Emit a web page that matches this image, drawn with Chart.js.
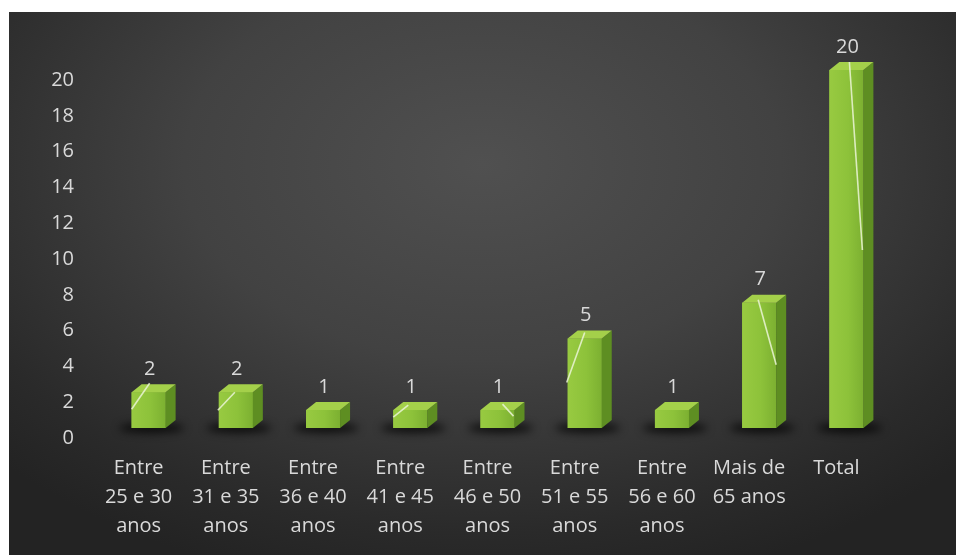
<!DOCTYPE html>
<html>
<head>
<meta charset="utf-8">
<script src="https://cdn.jsdelivr.net/npm/chart.js@4/dist/chart.umd.min.js"></script>
<style>
	html, body { margin: 0; background: #fff; }
	#wrap {
		position: absolute;
		left: 9px;
		top: 12px;
		width: 947px;
		height: 543px;
		background: radial-gradient(ellipse 70% 80% at 50% 28%, #505050 0%, #424242 45%, #2a2a2a 85%, #232323 100%);
	}
</style>
</head>
<body>
<div id="wrap"><canvas id="chart" width="947" height="543"></canvas></div>
<script>
const categories = [
	["Entre", "25 e 30", "anos"],
	["Entre", "31 e 35", "anos"],
	["Entre", "36 e 40", "anos"],
	["Entre", "41 e 45", "anos"],
	["Entre", "46 e 50", "anos"],
	["Entre", "51 e 55", "anos"],
	["Entre", "56 e 60", "anos"],
	["Mais de", "65 anos"],
	["Total"]
];
const values = [2, 2, 1, 1, 1, 5, 1, 7, 20];
const tick_values = [0, 2, 4, 6, 8, 10, 12, 14, 16, 18, 20];

// leader lines from each value label into its bar, relative to the bar's top centre
const leaders = [
	[-17, 17, 1, -9],
	[-18, 18, -1, 0],
	null,
	[-17, 7, -2, -5],
	[5, -6, 16, 6],
	[-18, 44, 0, -6],
	null,
	[-1, -3, 17, 62],
	[3, -8, 16, 180]
];

const text_color = "#d9d9d9";
const font_family = "'Open Sans', sans-serif";
const depth_x = 10;
const depth_y = -8;

const cube_plugin = {
	id: "cube",
	beforeDatasetsDraw(chart) {
		const ctx = chart.ctx;
		const bars = chart.getDatasetMeta(0).data;
		ctx.save();
		ctx.filter = "blur(4px)";
		ctx.fillStyle = "rgba(0, 0, 0, 0.75)";
		bars.forEach(bar => {
			ctx.beginPath();
			ctx.ellipse(bar.x + 3, bar.base, bar.width * 0.95, 5, 0, 0, Math.PI * 2);
			ctx.fill();
		});
		ctx.restore();
	},
	afterDatasetsDraw(chart) {
		const ctx = chart.ctx;
		const bars = chart.getDatasetMeta(0).data;
		ctx.save();
		bars.forEach((bar, i) => {
			const l = bar.x - bar.width / 2;
			const r = bar.x + bar.width / 2;
			const t = bar.y;
			const b = bar.base;

			// front face
			const g = ctx.createLinearGradient(l, 0, r, 0);
			g.addColorStop(0, "#98ca41");
			g.addColorStop(0.55, "#8dc23a");
			g.addColorStop(1, "#7cb031");
			ctx.fillStyle = g;
			ctx.fillRect(l, t, r - l, b - t);

			// side face
			ctx.fillStyle = "#5e8e22";
			ctx.beginPath();
			ctx.moveTo(r, t);
			ctx.lineTo(r + depth_x, t + depth_y);
			ctx.lineTo(r + depth_x, b + depth_y);
			ctx.lineTo(r, b);
			ctx.closePath();
			ctx.fill();

			// top face
			ctx.fillStyle = "#a4d04a";
			ctx.beginPath();
			ctx.moveTo(l, t);
			ctx.lineTo(l + depth_x, t + depth_y);
			ctx.lineTo(r + depth_x, t + depth_y);
			ctx.lineTo(r, t);
			ctx.closePath();
			ctx.fill();

			// leader line
			const ld = leaders[i];
			if (ld) {
				ctx.strokeStyle = "rgba(235, 245, 215, 0.85)";
				ctx.lineWidth = 1.6;
				ctx.beginPath();
				ctx.moveTo(bar.x + ld[0], t + ld[1]);
				ctx.lineTo(bar.x + ld[2], t + ld[3]);
				ctx.stroke();
			}

			// value label
			ctx.fillStyle = text_color;
			ctx.font = "20px " + font_family;
			ctx.textAlign = "center";
			ctx.textBaseline = "middle";
			ctx.fillText(String(values[i]), bar.x + 1, t - 23);
		});
		ctx.restore();
	}
};

new Chart(document.getElementById("chart"), {
	type: "bar",
	data: {
		labels: categories,
		datasets: [{
			data: values,
			backgroundColor: "#8dc23a",
			borderWidth: 0,
			barPercentage: 0.39,
			categoryPercentage: 1
		}]
	},
	options: {
		responsive: false,
		animation: false,
		layout: {
			padding: { top: 58, right: 66, left: 0, bottom: 0 }
		},
		plugins: {
			legend: { display: false },
			tooltip: { enabled: false }
		},
		scales: {
			x: {
				grid: { display: false, drawTicks: false },
				border: { display: false },
				afterFit: scale => { scale.height = 127; },
				ticks: {
					color: text_color,
					font: { family: font_family, size: 20, lineHeight: 1.45 },
					padding: 26,
					labelOffset: -10,
					maxRotation: 0,
					autoSkip: false
				}
			},
			y: {
				min: 0,
				max: 20,
				grid: { display: false, drawTicks: false },
				border: { display: false },
				afterFit: scale => { scale.width = 96; },
				afterBuildTicks: scale => {
					scale.ticks = tick_values.map(v => ({ value: v }));
				},
				ticks: {
					color: text_color,
					font: { family: font_family, size: 20 },
					padding: 31,
					labelOffset: 10
				}
			}
		}
	},
	plugins: [cube_plugin]
});
</script>
</body>
</html>
